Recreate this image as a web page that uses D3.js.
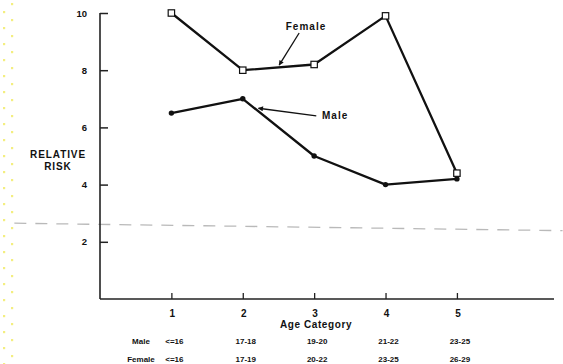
<!DOCTYPE html>
<html>
<head>
<meta charset="utf-8">
<script src="https://cdn.jsdelivr.net/npm/d3@7"></script>
<style>
  html, body { margin: 0; padding: 0; background: #fff; }
  svg { display: block; font-family: "Liberation Sans", Arial, Helvetica, sans-serif; }
  .lbl { font-weight: bold; fill: #111; }
</style>
</head>
<body>
<svg id="chart" width="563" height="364"></svg>
<script>
// Relative risk by age category
const categories = [1, 2, 3, 4, 5];
const femaleRisk = [10.0, 8.0, 8.2, 9.9, 4.4];
const maleRisk = [6.5, 7.0, 5.0, 4.0, 4.2];
const yTicks = [2, 4, 6, 8, 10];
const maleAges = ["<=16", "17-18", "19-20", "21-22", "23-25"];
const femaleAges = ["<=16", "17-19", "20-22", "23-25", "26-29"];
// Reference level line (drawn slightly tilted)
const refLine = [{ c: -1.2, v: 2.65 }, { c: 6.48, v: 2.39 }];

const svg = d3.select("#chart");

const x = d3.scaleLinear().domain([0, 6.36]).range([100, 554]);
const y = d3.scaleLinear().domain([0, 10]).range([299, 13]);

// faint dotted margin pattern down the left edge
const dots = d3.range(0, 23).flatMap(i => [
  { cx: 12, cy: 4 + i * 16 },
  { cx: 4, cy: 12 + i * 16 }
]);
svg.append("g").selectAll("rect").data(dots).join("rect")
  .attr("x", d => d.cx - 1).attr("y", d => d.cy - 1)
  .attr("width", 2.2).attr("height", 2.2)
  .attr("fill", "#f3ee80");

// dashed reference line
svg.append("path")
  .datum(refLine)
  .attr("d", d3.line().x(d => x(d.c)).y(d => y(d.v)))
  .attr("fill", "none")
  .attr("stroke", "#b9b9b9")
  .attr("stroke-width", 1.3)
  .attr("stroke-dasharray", "12,9");

// y axis
const yAxis = d3.axisRight(y).tickValues(yTicks).tickSize(8).tickFormat("");
const gy = svg.append("g").attr("transform", `translate(${x(0)},0)`).call(yAxis);
gy.select(".domain").attr("d", `M0,${y(10)}V${y(0)}`).attr("stroke", "#222").attr("stroke-width", 1.6);
gy.selectAll(".tick line").attr("stroke", "#222").attr("stroke-width", 1.5);

svg.append("g").selectAll("text").data(yTicks).join("text")
  .attr("class", "lbl")
  .attr("x", 87).attr("y", d => y(d) + 3.5)
  .attr("text-anchor", "end")
  .attr("font-size", 9.5)
  .text(d => d);

// x axis
const xAxis = d3.axisTop(x).tickValues(categories).tickSize(6).tickFormat("");
const gx = svg.append("g").attr("transform", `translate(0,${y(0)})`).call(xAxis);
gx.select(".domain").attr("d", `M${x(0)},0H554`).attr("stroke", "#222").attr("stroke-width", 1.6);
gx.selectAll(".tick line").attr("stroke", "#222").attr("stroke-width", 1.3);

svg.append("g").selectAll("text").data(categories).join("text")
  .attr("class", "lbl")
  .attr("x", d => x(d) + 1).attr("y", 317)
  .attr("text-anchor", "middle")
  .attr("font-size", 10)
  .text(d => d);

svg.append("text").attr("class", "lbl")
  .attr("x", 316).attr("y", 328)
  .attr("text-anchor", "middle")
  .attr("font-size", 10).attr("letter-spacing", 0.6)
  .text("Age Category");

// age ranges under each category
const rows = [
  { name: "Male", ages: maleAges, yb: 344 },
  { name: "Female", ages: femaleAges, yb: 362 }
];
rows.forEach(r => {
  svg.append("text").attr("class", "lbl")
    .attr("x", 141).attr("y", r.yb)
    .attr("text-anchor", "middle")
    .attr("font-size", 8).style("font-weight", 600)
    .text(r.name);
  svg.append("g").selectAll("text").data(r.ages).join("text")
    .attr("class", "lbl")
    .attr("x", (d, i) => x(categories[i]) + 3).attr("y", r.yb)
    .attr("text-anchor", "middle")
    .attr("font-size", 8).style("font-weight", 600)
    .text(d => d);
});

// y axis title
const yt = svg.append("text").attr("class", "lbl")
  .attr("text-anchor", "middle")
  .attr("font-size", 10).attr("letter-spacing", 0.9);
yt.append("tspan").attr("x", 58).attr("y", 158).text("RELATIVE");
yt.append("tspan").attr("x", 58).attr("y", 170).text("RISK");

// series lines
const line = d3.line().x(d => x(d.c)).y(d => y(d.v));
const femaleData = categories.map((c, i) => ({ c, v: femaleRisk[i] }));
const maleData = categories.map((c, i) => ({ c, v: maleRisk[i] }));

svg.append("path").datum(maleData)
  .attr("d", line).attr("fill", "none")
  .attr("stroke", "#111").attr("stroke-width", 2.3).attr("stroke-linejoin", "round");
svg.append("path").datum(femaleData)
  .attr("d", line).attr("fill", "none")
  .attr("stroke", "#111").attr("stroke-width", 2.3).attr("stroke-linejoin", "round");

svg.append("g").selectAll("circle").data(maleData).join("circle")
  .attr("cx", d => x(d.c)).attr("cy", d => y(d.v)).attr("r", 2.7)
  .attr("fill", "#111");

svg.append("g").selectAll("rect").data(femaleData).join("rect")
  .attr("x", d => x(d.c) - 3.2).attr("y", d => y(d.v) - 3.2)
  .attr("width", 6.4).attr("height", 6.4)
  .attr("fill", "#fff").attr("stroke", "#111").attr("stroke-width", 1.2);

// annotation arrows
svg.append("defs").append("marker")
  .attr("id", "head").attr("viewBox", "0 0 10 10")
  .attr("refX", 9).attr("refY", 5)
  .attr("markerWidth", 7).attr("markerHeight", 5)
  .attr("markerUnits", "userSpaceOnUse")
  .attr("orient", "auto")
  .append("path").attr("d", "M0,0L10,5L0,10Z").attr("fill", "#111");

const notes = [
  { text: "Female", from: { c: 2.79, v: 9.3 }, to: { c: 2.51, v: 8.18 }, lx: 306, ly: 30, anchor: "middle" },
  { text: "Male", from: { c: 3.03, v: 6.4 }, to: { c: 2.22, v: 6.67 }, lx: 322, ly: 119, anchor: "start" }
];
notes.forEach(n => {
  svg.append("line")
    .attr("x1", x(n.from.c)).attr("y1", y(n.from.v))
    .attr("x2", x(n.to.c)).attr("y2", y(n.to.v))
    .attr("stroke", "#111").attr("stroke-width", 1.3)
    .attr("marker-end", "url(#head)");
  svg.append("text").attr("class", "lbl")
    .attr("x", n.lx).attr("y", n.ly)
    .attr("text-anchor", n.anchor)
    .attr("font-size", 10).attr("letter-spacing", 1)
    .text(n.text);
});
</script>
</body>
</html>
